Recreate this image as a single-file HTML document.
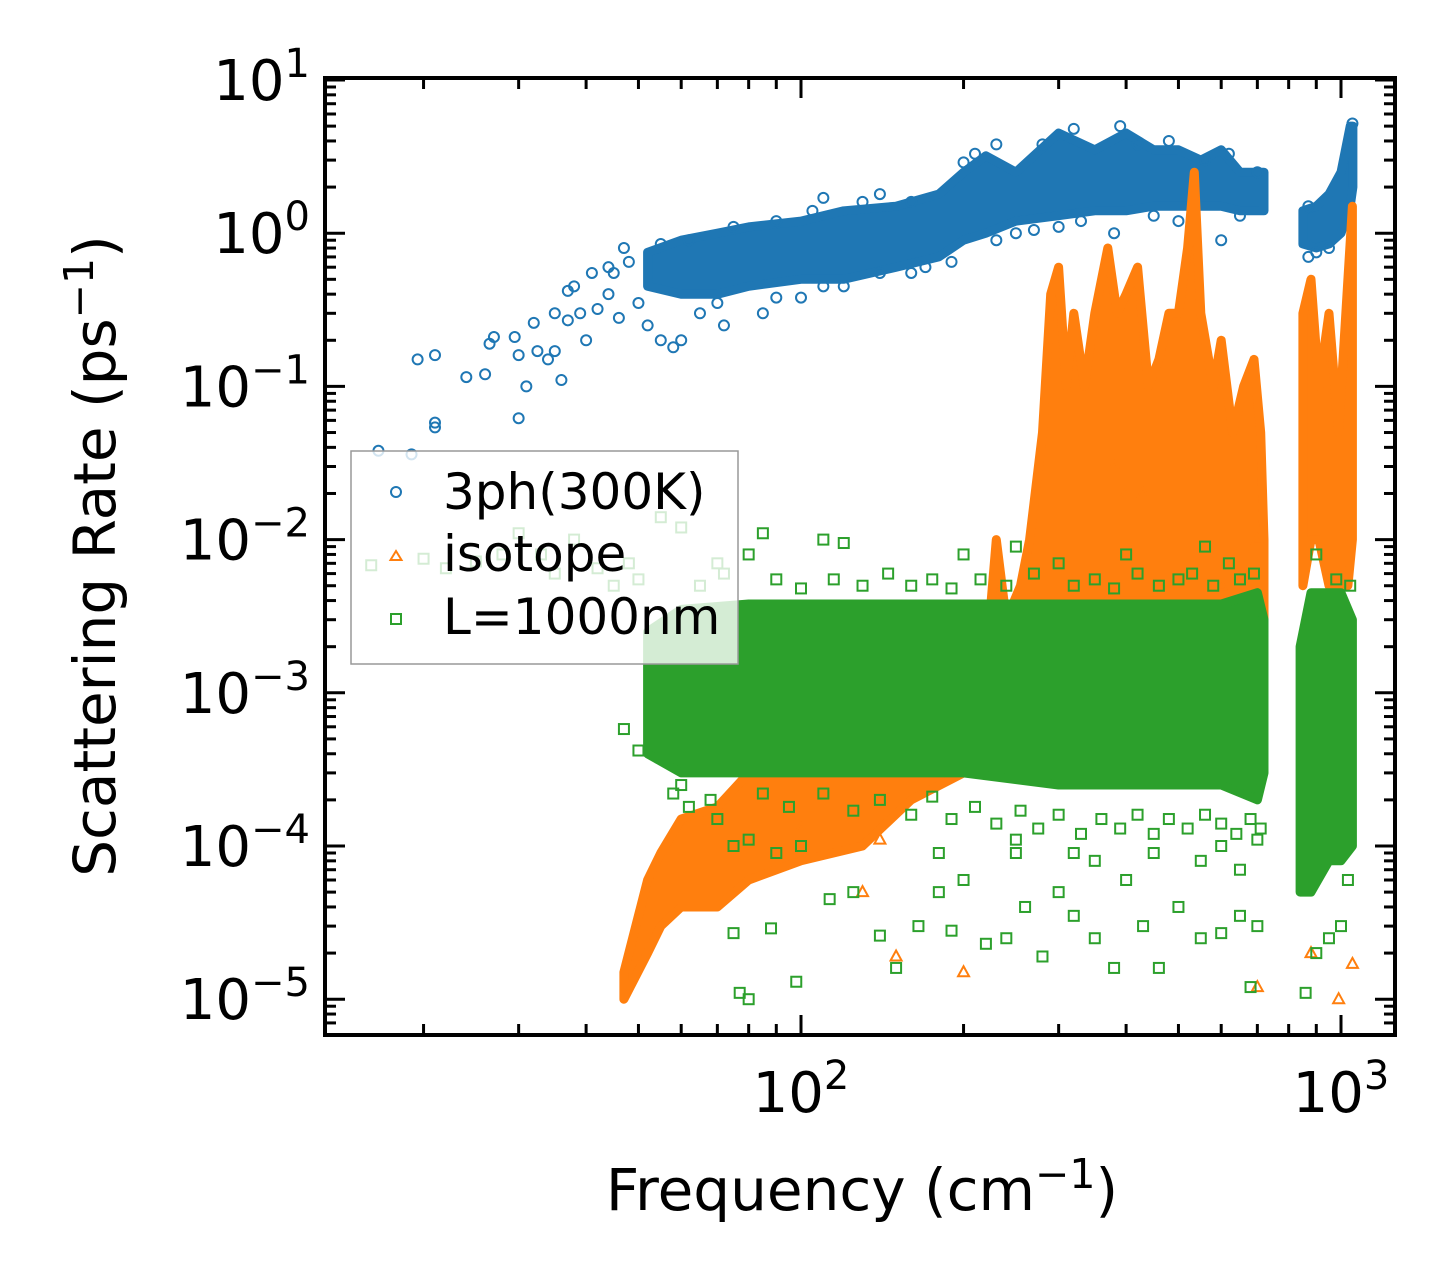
<!DOCTYPE html>
<html><head><meta charset="utf-8">
<style>
html,body{margin:0;padding:0;background:#fff;}
svg{display:block;}
text{font-family:"DejaVu Sans","Liberation Sans",sans-serif;fill:#000;}
</style></head>
<body>
<svg id="chart" width="1455" height="1285" viewBox="0 0 1455 1285" xmlns="http://www.w3.org/2000/svg">
<rect x="0" y="0" width="1455" height="1285" fill="#fff"/>
<g id="marks"></g>
<g id="axes"></g>
<g id="legend">
  <rect x="351" y="451" width="387" height="213" fill="#fff" fill-opacity="0.8" stroke="#999" stroke-width="1.5"/>
  <circle cx="396" cy="492" r="5" fill="none" stroke="#1f77b4" stroke-width="2"/>
  <text x="443" y="509" font-size="50">3ph(300K)</text>
  <path d="M396,551 L401.5,560 L390.5,560 Z" fill="none" stroke="#ff7f0e" stroke-width="2"/>
  <text x="443" y="571" font-size="50">isotope</text>
  <rect x="391" y="614" width="10" height="10" fill="none" stroke="#2ca02c" stroke-width="2"/>
  <text x="443" y="634" font-size="50">L=1000nm</text>
</g>
<text x="862" y="1210" font-size="58" text-anchor="middle">Frequency (cm<tspan font-size="41" dy="-22">−1</tspan><tspan dy="22">)</tspan></text>
<text transform="translate(115,556) rotate(-90)" font-size="58" text-anchor="middle">Scattering Rate (ps<tspan font-size="41" dy="-22">−1</tspan><tspan dy="22">)</tspan></text>
</svg>
<script>
// ---- data (frequency cm^-1, rate ps^-1) ----
// dense regions: [freq, low, high]
const blueBandA = [[52,0.45,0.75],[60,0.4,0.9],[70,0.4,1.0],[80,0.45,1.1],[100,0.5,1.2],[120,0.5,1.4],[150,0.6,1.5],[180,0.7,1.8],[200,0.9,2.5],[220,1.0,3.2],[250,1.2,2.5],[300,1.3,4.5],[350,1.4,3.5],[400,1.4,4.5],[450,1.5,3.5],[500,1.5,3.5],[550,1.5,3.0],[600,1.5,3.5],[650,1.4,2.5],[720,1.4,2.5]];
const blueBandB = [[850,0.85,1.4],[900,0.8,1.5],[950,0.85,1.8],[1000,1.0,2.5],[1040,1.5,5.0],[1052,2.0,5.0]];
const orangeBandA = [[47,1.0e-5,1.5e-5],[52,2e-5,6e-5],[55,3e-5,9e-5],[60,4e-5,1.5e-4],[70,4e-5,1.8e-4],[80,6e-5,3e-4],[100,8e-5,3.2e-4],[130,1e-4,3.2e-4],[160,2e-4,4e-4],[200,3e-4,1e-3],[225,5e-4,4e-3],[230,5e-4,1e-2],[240,5e-4,3e-3],[255,1e-3,5e-3],[265,2e-3,1e-2],[280,2.5e-3,0.05],[290,3e-3,0.4],[300,3e-3,0.6],[310,3e-3,0.1],[320,3e-3,0.3],[335,3e-3,0.1],[350,3e-3,0.3],[370,4e-3,0.8],[385,4e-3,0.3],[400,4e-3,0.4],[420,4e-3,0.6],[440,4e-3,0.1],[460,4e-3,0.15],[480,3e-3,0.3],[500,3e-3,0.3],[520,3e-3,0.8],[535,3e-3,2.5],[550,3e-3,0.3],[580,3e-3,0.1],[600,3e-3,0.2],[630,3e-3,0.05],[660,3e-3,0.1],[690,3e-3,0.15],[710,3e-3,0.05],[720,2e-3,0.01]];
const orangeBandB = [[850,5e-3,0.3],[880,0.01,0.5],[910,0.01,0.1],[950,0.005,0.3],[990,5e-3,0.05],[1030,0.005,0.5],[1050,0.01,1.5]];
const greenBandA = [[52,4e-4,2.5e-3],[60,3e-4,3.5e-3],[80,3e-4,3.8e-3],[100,3e-4,3.8e-3],[150,3e-4,3.8e-3],[200,3e-4,3.8e-3],[300,2.5e-4,3.8e-3],[400,2.5e-4,3.8e-3],[500,2.5e-4,3.8e-3],[600,2.5e-4,3.8e-3],[700,2e-4,4.5e-3],[720,3e-4,3e-3]];
const greenBandB = [[840,5e-5,2e-3],[880,5e-5,4.5e-3],[950,8e-5,4.5e-3],[1000,8e-5,4.5e-3],[1050,1e-4,3e-3]];
// sparse points: [freq, rate]
const bluePts = [[16.5,0.038],[19,0.036],[19.5,0.15],[21,0.16],[21,0.058],[21,0.054],[24,0.115],[26,0.12],[26.5,0.19],[27,0.21],[29.5,0.21],[30,0.16],[30,0.062],[31,0.1],[32,0.26],[32.5,0.17],[34,0.15],[35,0.3],[35,0.17],[36,0.11],[37,0.42],[37,0.27],[38,0.45],[39,0.3],[40,0.2],[41,0.55],[42,0.32],[44,0.6],[44,0.4],[45,0.55],[46,0.28],[47,0.8],[48,0.65],[50,0.35],[52,0.25],[55,0.2],[58,0.18],[60,0.2],[65,0.3],[72,0.25],[85,0.3],[100,0.38],[120,0.45],[140,0.55],[170,0.6],[250,1.0],[300,1.1],[380,1.0],[500,1.2],[600,0.9],[870,0.7],[950,0.8],[140,1.8],[110,1.7],[1050,5.2],[55,0.85],[62,0.9],[75,1.1],[90,1.2],[105,1.4],[130,1.6],[160,1.6],[200,2.9],[210,3.3],[230,3.8],[280,3.8],[320,4.8],[390,5.0],[420,3.8],[480,4.0],[560,3.0],[620,3.3],[700,2.5],[70,0.35],[90,0.38],[110,0.45],[160,0.55],[190,0.65],[230,0.9],[270,1.05],[330,1.2],[450,1.3],[650,1.3],[870,1.5],[900,0.75]];
const orangePts = [[150,1.9e-5],[200,1.5e-5],[700,1.2e-5],[1050,1.7e-5],[990,1.0e-5],[880,2e-5],[130,5e-5],[140,1.1e-4],[100,1.3e-4],[400,0.02],[430,0.02],[380,0.03],[600,0.005],[700,0.01],[900,0.003],[1000,0.004]];
const greenPts = [[16,6.8e-3],[20,7.5e-3],[22,6.5e-3],[25,7.2e-3],[28,8e-3],[30,0.011],[33,8e-3],[35,6e-3],[38,0.01],[42,6.5e-3],[45,5e-3],[48,7e-3],[50,5.5e-3],[55,0.014],[60,0.012],[70,7e-3],[80,0.008],[110,0.01],[120,0.0095],[85,0.011],[47,5.8e-4],[50,4.2e-4],[55,3.8e-4],[58,2.2e-4],[62,1.8e-4],[70,1.5e-4],[75,1e-4],[80,1.1e-4],[90,9e-5],[100,1e-4],[75,2.7e-5],[77,1.1e-5],[80,1.0e-5],[88,2.9e-5],[98,1.3e-5],[113,4.5e-5],[125,5e-5],[140,2.6e-5],[150,1.6e-5],[165,3e-5],[180,5e-5],[190,2.8e-5],[200,6e-5],[220,2.3e-5],[240,2.5e-5],[260,4e-5],[280,1.9e-5],[300,5e-5],[320,3.5e-5],[350,2.5e-5],[380,1.6e-5],[400,6e-5],[430,3e-5],[460,1.6e-5],[500,4e-5],[550,2.5e-5],[600,2.7e-5],[650,3.5e-5],[680,1.2e-5],[700,3e-5],[180,9e-5],[250,9e-5],[350,8e-5],[450,9e-5],[600,1e-4],[700,1.1e-4],[900,2e-5],[950,2.5e-5],[1000,3e-5],[1030,6e-5],[860,1.1e-5],[250,9e-3],[200,8e-3],[300,7e-3],[400,8e-3],[560,9e-3],[620,7e-3],[900,8e-3],[980,5.5e-3],[1040,5e-3],
[65,5e-3],[72,6e-3],[90,5.5e-3],[100,4.8e-3],[115,5.5e-3],[130,5e-3],[145,6e-3],[160,5e-3],[175,5.5e-3],[190,4.8e-3],[215,5.5e-3],[240,5e-3],[270,6e-3],[320,5e-3],[350,5.5e-3],[380,4.8e-3],[420,6e-3],[460,5e-3],[500,5.5e-3],[530,6e-3],[580,5e-3],[650,5.5e-3],[690,6e-3],
[60,2.5e-4],[68,2e-4],[85,2.2e-4],[95,1.8e-4],[110,2.2e-4],[125,1.7e-4],[140,2e-4],[160,1.6e-4],[175,2.1e-4],[190,1.5e-4],[210,1.8e-4],[230,1.4e-4],[255,1.7e-4],[275,1.3e-4],[300,1.6e-4],[330,1.2e-4],[360,1.5e-4],[390,1.3e-4],[420,1.6e-4],[450,1.2e-4],[480,1.5e-4],[520,1.3e-4],[560,1.6e-4],[600,1.4e-4],[640,1.2e-4],[680,1.5e-4],[710,1.3e-4],[250,1.1e-4],[320,9e-5],[550,8e-5],[650,7e-5]];

// ---- scales ----
const X0=325, X1=1395, Y0=78, Y1=1035;
const LX0=2-476/540, LX1=3+54/540;
const PX_DEC=153.2, Y_TOP_LOG1=80;
function xs(f){return X0+(Math.log10(f)-LX0)/(LX1-LX0)*(X1-X0);}
function ys(v){return Y_TOP_LOG1+(1-Math.log10(v))*PX_DEC;}
const NS="http://www.w3.org/2000/svg";
const marks=document.getElementById('marks');
const axes=document.getElementById('axes');
const COL={blue:'#1f77b4',orange:'#ff7f0e',green:'#2ca02c'};

function band(arr,color,name){
  let up=arr.map(d=>xs(d[0]).toFixed(1)+','+ys(d[2]).toFixed(1));
  let dn=arr.slice().reverse().map(d=>xs(d[0]).toFixed(1)+','+ys(d[1]).toFixed(1));
  const p=document.createElementNS(NS,'polygon');
  p.setAttribute('points',up.concat(dn).join(' '));
  p.setAttribute('fill',color);
  p.setAttribute('stroke',color);
  p.setAttribute('stroke-width','9');
  p.setAttribute('stroke-linejoin','round');
  
  
  marks.appendChild(p);
}
function pts(arr,kind,color,name){
  arr.forEach(d=>{
    const x=xs(d[0]), y=ys(d[1]);
    let el;
    if(kind==='circle'){el=document.createElementNS(NS,'circle');el.setAttribute('cx',x);el.setAttribute('cy',y);el.setAttribute('r',5);}
    else if(kind==='tri'){el=document.createElementNS(NS,'path');el.setAttribute('d',`M${x},${y-6} L${x+5.5},${y+4} L${x-5.5},${y+4} Z`);}
    else {el=document.createElementNS(NS,'rect');el.setAttribute('x',x-5);el.setAttribute('y',y-5);el.setAttribute('width',10);el.setAttribute('height',10);}
    el.setAttribute('fill','none');el.setAttribute('stroke',color);el.setAttribute('stroke-width','2');
    
    
    marks.appendChild(el);
  });
}
band(blueBandA,COL.blue,'3ph-dense-region');
band(blueBandB,COL.blue,'3ph-dense-region-high');
pts(bluePts,'circle',COL.blue,'3ph-point');
band(orangeBandA,COL.orange,'isotope-dense-region');
band(orangeBandB,COL.orange,'isotope-dense-region-high');
pts(orangePts,'tri',COL.orange,'isotope-point');
band(greenBandA,COL.green,'boundary-dense-region');
band(greenBandB,COL.green,'boundary-dense-region-high');
pts(greenPts,'square',COL.green,'boundary-point');

// ---- axes ----
function line(x1,y1,x2,y2,w,name){
  const l=document.createElementNS(NS,'line');
  l.setAttribute('x1',x1);l.setAttribute('y1',y1);l.setAttribute('x2',x2);l.setAttribute('y2',y2);
  l.setAttribute('stroke','#000');l.setAttribute('stroke-width',w);
  
  
  axes.appendChild(l);
}
const xMajors=[2,3];
const yMajors=[1,0,-1,-2,-3,-4,-5];
for(let d=1; d<=3; d++){
  for(let m=1;m<10;m++){
    const f=m*Math.pow(10,d);
    const x=xs(f);
    if(x<X0+2||x>X1-2) continue;
    const L=(m===1)?20:11;
    line(x,Y1,x,Y1-L,3,'x-tick');
    line(x,Y0,x,Y0+L,3,'x-tick-top');
  }
}
for(let d=-6; d<=1; d++){
  for(let m=1;m<10;m++){
    const v=m*Math.pow(10,d);
    const y=ys(v);
    if(y<Y0+2||y>Y1-2) continue;
    const L=(m===1)?20:11;
    line(X0,y,X0+L,y,3,'y-tick');
    line(X1,y,X1-L,y,3,'y-tick-right');
  }
}
const fr=document.createElementNS(NS,'rect');
fr.setAttribute('x',X0);fr.setAttribute('y',Y0);fr.setAttribute('width',X1-X0);fr.setAttribute('height',Y1-Y0);
fr.setAttribute('fill','none');fr.setAttribute('stroke','#000');fr.setAttribute('stroke-width','4');


axes.appendChild(fr);
function label(x,y,exp,anchor,name){
  const t=document.createElementNS(NS,'text');
  t.setAttribute('x',x);t.setAttribute('y',y);t.setAttribute('font-size','56');t.setAttribute('text-anchor',anchor);
  t.innerHTML='10<tspan font-size="40" dy="-23">'+exp+'</tspan>';
  
  
  axes.appendChild(t);
}
xMajors.forEach(e=>label(xs(Math.pow(10,e)),1112,String(e),'middle','x-tick-label'));
yMajors.forEach(e=>label(310,ys(Math.pow(10,e))+20,(e<0?'−':'')+Math.abs(e),'end','y-tick-label'));
</script>
</body></html>
